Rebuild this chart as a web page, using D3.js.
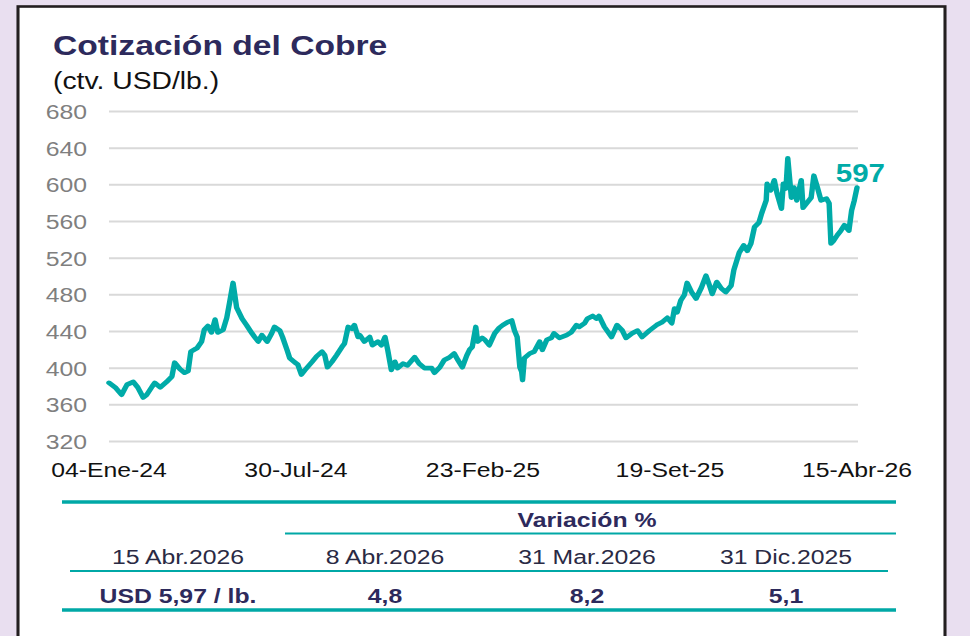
<!DOCTYPE html>
<html>
<head>
<meta charset="utf-8">
<script src="https://cdn.jsdelivr.net/npm/d3@7/dist/d3.min.js"></script>
<style>
  html, body { margin: 0; padding: 0; background: #e9dff0; }
  svg { display: block; }
  text { font-family: "Liberation Sans", Arial, sans-serif; }
</style>
</head>
<body>
<div id="chart"></div>
<script>
// serie diaria del cobre (ctv. USD/lb.), días desde el 04-Ene-24
const inicio = new Date(2024, 0, 4);
const dias = [
  0, 7, 14, 20, 27, 32, 38, 42, 48, 51,
  57, 64, 70, 73, 79, 84, 88, 91, 98, 103,
  106, 110, 114, 118, 121, 127, 131, 134, 138, 142,
  148, 153, 159, 162, 166, 170, 176, 181, 184, 190,
  193, 198, 201, 207, 210, 214, 218, 226, 231, 237,
  240, 243, 248, 253, 259, 262, 266, 270, 273, 277,
  279, 284, 290, 293, 299, 303, 307, 310, 314, 318,
  321, 327, 332, 340, 345, 351, 359, 362, 368, 373,
  379, 384, 388, 393, 398, 401, 404, 408, 410, 415,
  418, 423, 429, 434, 438, 443, 448, 451, 454, 457,
  459, 460, 462, 468, 473, 479, 482, 487, 492, 495,
  501, 509, 514, 520, 523, 529, 532, 538, 542, 545,
  551, 559, 565, 571, 575, 582, 588, 593, 601, 609,
  615, 621, 626, 629, 632, 636, 640, 643, 648, 653,
  659, 664, 668, 671, 676, 681, 686, 692, 695, 701,
  706, 710, 714, 718, 723, 726, 731, 732, 736, 740,
  743, 748, 750, 753, 755, 759, 762, 765, 770, 772,
  776, 781, 784, 788, 792, 798, 801, 803, 806, 810,
  814, 818, 823, 826, 829, 832
];
const cobre = [
  384, 379, 371, 382, 385, 379, 368, 371, 380, 384,
  379, 385, 391, 406, 399, 395, 397, 418, 422, 429,
  442, 446, 439, 453, 439, 442, 455, 471, 493, 466,
  454, 447, 438, 434, 429, 436, 429, 438, 445, 441,
  434, 420, 411, 406, 404, 393, 398, 407, 413, 418,
  414, 401, 407, 414, 423, 427, 445, 443, 447, 434,
  436, 429, 434, 425, 429, 425, 434, 420, 398, 407,
  400, 405, 403, 412, 405, 400, 400, 395, 401, 409,
  412, 416, 409, 401, 414, 420, 423, 445, 429, 433,
  431, 425, 438, 444, 447, 450, 452, 441, 434, 401,
  396, 387, 411, 416, 418, 429, 420, 431, 433, 438,
  433, 436, 439, 447, 445, 449, 454, 457, 454, 457,
  445, 434, 447, 441, 433, 438, 441, 434, 441, 447,
  450, 455, 449, 465, 461, 474, 480, 493, 483, 476,
  488, 501, 490, 481, 494, 487, 483, 490, 507, 526,
  534, 528, 536, 554, 559, 569, 583, 601, 594, 605,
  591, 574, 601, 596, 629, 586, 597, 583, 605, 575,
  580, 586, 610, 597, 583, 585, 580, 536, 539, 545,
  550, 556, 550, 572, 583, 597
];

const fechasEje = [new Date(2024, 0, 4), new Date(2024, 6, 30), new Date(2025, 1, 23), new Date(2025, 8, 19), new Date(2026, 3, 15)];
const etiquetasEje = ["04-Ene-24", "30-Jul-24", "23-Feb-25", "19-Set-25", "15-Abr-26"];
const ticksY = [320, 360, 400, 440, 480, 520, 560, 600, 640, 680];

const encabezados = ["15 Abr.2026", "8 Abr.2026", "31 Mar.2026", "31 Dic.2025"];
const valores = ["USD 5,97 / lb.", "4,8", "8,2", "5,1"];

// the reference is stretched horizontally; draw in a narrower viewBox
const S = 1.18;
const W = 970, H = 636;
const px = v => v / S;
const navy = "#2d2a5c";
const teal = "#00aba8";

const svg = d3.select("#chart").append("svg")
  .attr("width", W)
  .attr("height", H)
  .attr("viewBox", `0 0 ${W / S} ${H}`)
  .attr("preserveAspectRatio", "none");

// panel
svg.append("rect")
  .attr("x", px(18)).attr("y", 6.5)
  .attr("width", px(927)).attr("height", 700)
  .attr("fill", "#fff")
  .attr("stroke", "#231f20")
  .attr("stroke-width", 2.6);

svg.append("text")
  .attr("x", px(53)).attr("y", 55)
  .attr("font-size", 28.5).attr("font-weight", "bold")
  .attr("fill", navy)
  .text("Cotización del Cobre");

svg.append("text")
  .attr("x", px(53)).attr("y", 89)
  .attr("font-size", 24)
  .attr("fill", "#111")
  .text("(ctv. USD/lb.)");

const datos = dias.map((d, i) => ({ fecha: d3.timeDay.offset(inicio, d), valor: cobre[i] }));

const x = d3.scaleTime()
  .domain([inicio, new Date(2026, 3, 15)])
  .range([px(109), px(857)]);

const y = d3.scaleLinear()
  .domain([320, 680])
  .range([441.5, 111.5]);

// grid + y labels
const gy = svg.append("g");
gy.selectAll("line").data(ticksY).join("line")
  .attr("x1", px(109)).attr("x2", px(858))
  .attr("y1", d => y(d)).attr("y2", d => y(d))
  .attr("stroke", "#d9d9d9").attr("stroke-width", 2);
gy.selectAll("text").data(ticksY).join("text")
  .attr("x", px(87)).attr("y", d => y(d) + 7.5)
  .attr("text-anchor", "end")
  .attr("font-size", 21)
  .attr("fill", "#7f7f7f")
  .text(d => d);

// x labels
svg.append("g").selectAll("text").data(fechasEje).join("text")
  .attr("x", d => x(d)).attr("y", 477)
  .attr("text-anchor", "middle")
  .attr("font-size", 21)
  .attr("fill", "#111")
  .text((d, i) => etiquetasEje[i]);

const linea = d3.line()
  .x(d => x(d.fecha))
  .y(d => y(d.valor));

svg.append("path")
  .datum(datos)
  .attr("d", linea)
  .attr("fill", "none")
  .attr("stroke", teal)
  .attr("stroke-width", 4.6)
  .attr("stroke-linejoin", "round")
  .attr("stroke-linecap", "round");

const ultimo = datos[datos.length - 1];
svg.append("text")
  .attr("x", x(ultimo.fecha) + px(28)).attr("y", y(ultimo.valor) - 6)
  .attr("text-anchor", "end")
  .attr("font-size", 25).attr("font-weight", "bold")
  .attr("fill", teal)
  .text(ultimo.valor);

// tabla de variaciones
const colX = [178, 385, 587, 786].map(px);
const tabla = svg.append("g");
const regla = (x1, x2, yy, w) => tabla.append("line")
  .attr("x1", px(x1)).attr("x2", px(x2))
  .attr("y1", yy).attr("y2", yy)
  .attr("stroke", "#00a8a6").attr("stroke-width", w);

regla(62, 896, 502, 3.5);
regla(285, 896, 533.5, 2.2);
regla(70, 888, 571, 2.2);
regla(62, 896, 610, 3.5);

tabla.append("text")
  .attr("x", px(587)).attr("y", 527)
  .attr("text-anchor", "middle")
  .attr("font-size", 21).attr("font-weight", "bold")
  .attr("fill", navy)
  .text("Variación %");

tabla.selectAll("text.enc").data(encabezados).join("text")
  .attr("class", "enc")
  .attr("x", (d, i) => colX[i]).attr("y", 564)
  .attr("text-anchor", "middle")
  .attr("font-size", 21)
  .attr("fill", "#2a2a44")
  .text(d => d);

tabla.selectAll("text.val").data(valores).join("text")
  .attr("class", "val")
  .attr("x", (d, i) => colX[i]).attr("y", 603)
  .attr("text-anchor", "middle")
  .attr("font-size", 21).attr("font-weight", "bold")
  .attr("fill", navy)
  .text(d => d);
</script>
</body>
</html>
